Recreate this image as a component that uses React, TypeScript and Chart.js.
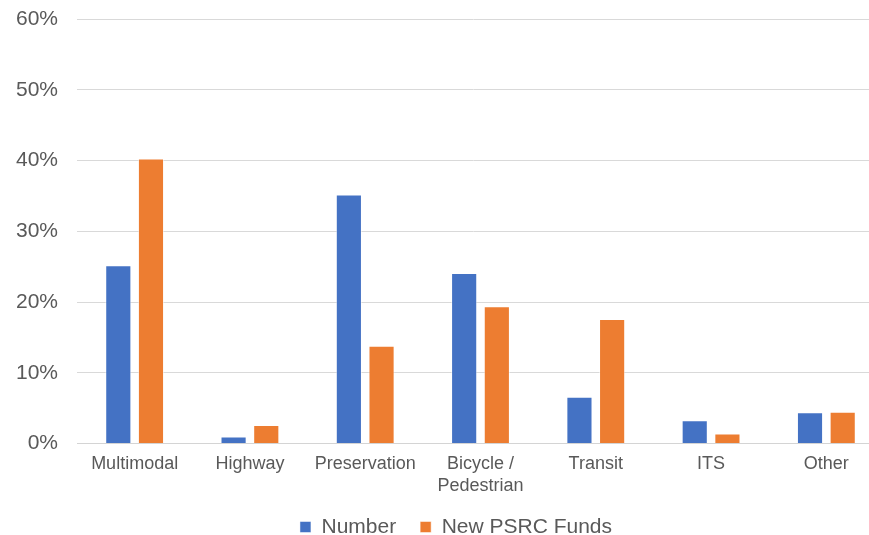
import React, { useEffect, useRef } from "react";
import { Chart, registerables } from "chart.js";

Chart.register(...registerables);

const categories: (string | string[])[] = [
  "Multimodal",
  "Highway",
  "Preservation",
  ["Bicycle /", "Pedestrian"],
  "Transit",
  "ITS",
  "Other",
];
const numberValues = [25.2, 1.0, 35.2, 24.1, 6.6, 3.3, 4.4];
const fundsValues = [40.3, 2.6, 13.8, 19.4, 17.6, 1.4, 4.5];
const seriesNames = ["Number", "New PSRC Funds"];
const yTicks = [0, 10, 20, 30, 40, 50, 60];

const LEGEND_TOP = 492.5;
const LEGEND_CENTER_X = 456;
const PLOT_RIGHT = 884;

const layoutTweak = {
  id: "layoutTweak",
  afterLayout(chart: any) {
    const area = chart.chartArea;
    area.right = PLOT_RIGHT;
    area.width = area.right - area.left;
    const x = chart.scales.x;
    if (x) {
      x.right = PLOT_RIGHT;
      x.width = x.right - x.left;
      x.configure();
    }
    const lg = chart.legend;
    if (!lg) return;
    const d = LEGEND_TOP - lg.top;
    lg.top += d;
    lg.bottom += d;
    const dx = LEGEND_CENTER_X - (lg.left + lg.right) / 2;
    lg.left += dx;
    lg.right += dx;
  },
};

export default function App() {
  const ref = useRef<HTMLCanvasElement | null>(null);

  useEffect(() => {
    document.body.style.margin = "0";
    if (!ref.current) return;
    const font = "'Liberation Sans', Arial, sans-serif";
    const chart = new Chart(ref.current, {
      type: "bar",
      data: {
        labels: categories,
        datasets: [
          {
            label: seriesNames[0],
            data: numberValues,
            backgroundColor: "#4472C4",
            borderColor: "rgba(255,255,255,0.5)",
            borderWidth: 1,
            categoryPercentage: 0.567,
            barPercentage: 0.8,
          },
          {
            label: seriesNames[1],
            data: fundsValues,
            backgroundColor: "#ED7D31",
            borderColor: "rgba(255,255,255,0.5)",
            borderWidth: 1,
            categoryPercentage: 0.567,
            barPercentage: 0.8,
          },
        ],
      },
      plugins: [layoutTweak],
      options: {
        responsive: false,
        animation: false,
        layout: { padding: { top: 19, right: 0, left: 0, bottom: -18 } },
        plugins: {
          tooltip: { enabled: false },
          legend: {
            position: "bottom",
            labels: {
              color: "#595959",
              font: { family: font, size: 21 },
              boxWidth: 11,
              boxHeight: 11,
              padding: 24,
            },
          },
        },
        scales: {
          x: {
            grid: { display: false, drawTicks: false },
            border: { display: true, color: "#d4d4d4", width: 1 },
            ticks: {
              color: "#595959",
              font: { family: font, size: 18 },
              padding: 10,
              maxRotation: 0,
              autoSkip: false,
            },
            afterFit: (scale: any) => {
              scale.height = 54.5;
              scale.paddingLeft = 0;
              scale.paddingRight = 0;
            },
          },
          y: {
            min: yTicks[0],
            max: yTicks[yTicks.length - 1],
            grid: { color: "#d9d9d9", lineWidth: 1, drawTicks: false },
            border: { display: false },
            ticks: {
              stepSize: 10,
              color: "#595959",
              font: { family: font, size: 21 },
              padding: 19,
              callback: (v: any) => v + "%",
            },
            afterFit: (scale: any) => {
              scale.width = 77;
              scale.paddingTop = 0;
              scale.paddingBottom = 0;
            },
          },
        },
      },
    });
    return () => chart.destroy();
  }, []);

  return (
    <div style={{ width: 869, height: 535 }}>
      <canvas ref={ref} width={869} height={535} style={{ display: "block" }} />
    </div>
  );
}
